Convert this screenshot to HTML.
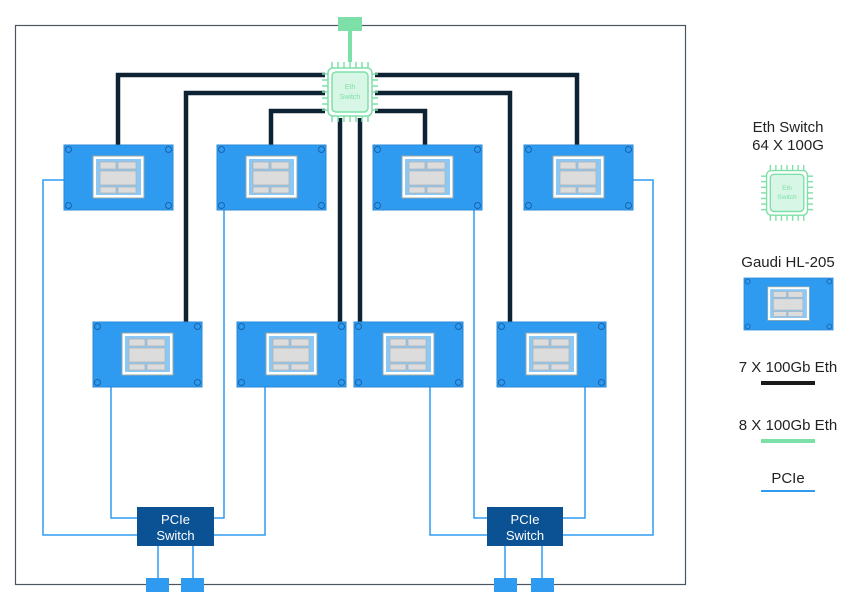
<!DOCTYPE html>
<html><head><meta charset="utf-8"><style>
html,body{margin:0;padding:0;background:#fff;}
svg{display:block;font-family:"Liberation Sans",sans-serif;}
</style></head><body>
<svg width="851" height="611" viewBox="0 0 851 611" xmlns="http://www.w3.org/2000/svg">
<defs>
<g id="card">
<rect x="0" y="0" width="109" height="65" fill="#2e9bf0" stroke="#2a8ad8" stroke-width="1"/>
<circle cx="4.5" cy="4.5" r="3" fill="none" stroke="#1a63a8" stroke-width="1"/>
<circle cx="104.5" cy="4.5" r="3" fill="none" stroke="#1a63a8" stroke-width="1"/>
<circle cx="4.5" cy="60.5" r="3" fill="none" stroke="#1a63a8" stroke-width="1"/>
<circle cx="104.5" cy="60.5" r="3" fill="none" stroke="#1a63a8" stroke-width="1"/>
<rect x="29" y="11" width="51" height="42" fill="#fff" stroke="#9aa" stroke-width="1"/>
<rect x="32" y="14" width="45" height="36" fill="#8cc8f5"/>
<rect x="36" y="17" width="16" height="7" fill="#dcdcdc" stroke="#b0b0b0" stroke-width="0.7"/>
<rect x="54" y="17" width="18" height="7" fill="#dcdcdc" stroke="#b0b0b0" stroke-width="0.7"/>
<rect x="36" y="26" width="36" height="14" fill="#dcdcdc" stroke="#b0b0b0" stroke-width="0.7"/>
<rect x="36" y="42" width="16" height="6" fill="#dcdcdc" stroke="#b0b0b0" stroke-width="0.7"/>
<rect x="54" y="42" width="18" height="6" fill="#dcdcdc" stroke="#b0b0b0" stroke-width="0.7"/>
</g>
<g id="chip" stroke="#7de0a8" stroke-width="1.5" fill="none">
<g>
<line x1="10" y1="0" x2="10" y2="6"/><line x1="16" y1="0" x2="16" y2="6"/><line x1="22" y1="0" x2="22" y2="6"/><line x1="28" y1="0" x2="28" y2="6"/><line x1="34" y1="0" x2="34" y2="6"/><line x1="40" y1="0" x2="40" y2="6"/><line x1="46" y1="0" x2="46" y2="6"/>
<line x1="10" y1="54" x2="10" y2="60"/><line x1="16" y1="54" x2="16" y2="60"/><line x1="22" y1="54" x2="22" y2="60"/><line x1="28" y1="54" x2="28" y2="60"/><line x1="34" y1="54" x2="34" y2="60"/><line x1="40" y1="54" x2="40" y2="60"/><line x1="46" y1="54" x2="46" y2="60"/>
<line x1="0" y1="12" x2="6" y2="12"/><line x1="0" y1="18" x2="6" y2="18"/><line x1="0" y1="24" x2="6" y2="24"/><line x1="0" y1="30" x2="6" y2="30"/><line x1="0" y1="36" x2="6" y2="36"/><line x1="0" y1="42" x2="6" y2="42"/><line x1="0" y1="48" x2="6" y2="48"/>
<line x1="50" y1="12" x2="56" y2="12"/><line x1="50" y1="18" x2="56" y2="18"/><line x1="50" y1="24" x2="56" y2="24"/><line x1="50" y1="30" x2="56" y2="30"/><line x1="50" y1="36" x2="56" y2="36"/><line x1="50" y1="42" x2="56" y2="42"/><line x1="50" y1="48" x2="56" y2="48"/>
</g>
<rect x="6" y="6" width="44" height="48" rx="5" fill="#fff"/>
<rect x="10" y="10" width="36" height="40" rx="4" fill="#d7f6e5"/>
</g>
</defs>

<!-- frame -->
<rect x="15.5" y="25.5" width="670" height="559" fill="none" stroke="#4a5560" stroke-width="1.2"/>

<!-- PCIe lines -->
<g stroke="#2e9bf0" stroke-width="1.5" fill="none">
<polyline points="64,180 43,180 43,535 137,535"/>
<polyline points="111,387 111,518 137,518"/>
<polyline points="224,210 224,518 214,518"/>
<polyline points="265,387 265,535 214,535"/>
<polyline points="430,387 430,535 487,535"/>
<polyline points="474,210 474,518 487,518"/>
<polyline points="585,387 585,518 563,518"/>
<polyline points="633,180 653,180 653,535 563,535"/>
<line x1="158" y1="546" x2="158" y2="580"/><line x1="193" y1="546" x2="193" y2="580"/>
<line x1="505" y1="546" x2="505" y2="580"/><line x1="542" y1="546" x2="542" y2="580"/>
</g>

<!-- Eth thick lines -->
<g stroke="#0d2233" stroke-width="4.5" fill="none">
<polyline points="118,145 118,75 325,75"/>
<polyline points="186,322 186,93 325,93"/>
<polyline points="271,145 271,111 325,111"/>
<line x1="340" y1="322" x2="340" y2="118"/>
<line x1="360" y1="322" x2="360" y2="118"/>
<polyline points="425,145 425,111 375,111"/>
<polyline points="510,322 510,93 375,93"/>
<polyline points="577,145 577,75 375,75"/>
</g>

<!-- top green connector -->
<line x1="350" y1="30" x2="350" y2="62" stroke="#7de0a8" stroke-width="4"/>
<rect x="338" y="17" width="24" height="14" fill="#7de0a8"/>
<g transform="translate(322,62)"><use href="#chip"/></g>
<text x="350" y="89" font-size="7" fill="#7de0a8" text-anchor="middle">Eth</text>
<text x="350" y="99" font-size="7" fill="#7de0a8" text-anchor="middle">Switch</text>

<!-- cards -->
<use href="#card" x="64" y="145"/>
<use href="#card" x="217" y="145"/>
<use href="#card" x="373" y="145"/>
<use href="#card" x="524" y="145"/>
<use href="#card" x="93" y="322"/>
<use href="#card" x="237" y="322"/>
<use href="#card" x="354" y="322"/>
<use href="#card" x="497" y="322"/>

<!-- PCIe switches -->
<rect x="137" y="507" width="77" height="39" fill="#0a5294"/>
<text x="175.5" y="524" font-size="13" fill="#fff" text-anchor="middle">PCIe</text>
<text x="175.5" y="540" font-size="13" fill="#fff" text-anchor="middle">Switch</text>
<rect x="487" y="507" width="76" height="39" fill="#0a5294"/>
<text x="525" y="524" font-size="13" fill="#fff" text-anchor="middle">PCIe</text>
<text x="525" y="540" font-size="13" fill="#fff" text-anchor="middle">Switch</text>

<!-- bottom connectors -->
<g fill="#2e9bf0">
<rect x="146" y="578" width="23" height="14"/><rect x="181" y="578" width="23" height="14"/>
<rect x="494" y="578" width="23" height="14"/><rect x="531" y="578" width="23" height="14"/>
</g>

<!-- legend -->
<g fill="#222" font-size="15" text-anchor="middle">
<text x="788" y="132">Eth Switch</text>
<text x="788" y="150">64 X 100G</text>
<text x="788" y="267">Gaudi HL-205</text>
<text x="788" y="372">7 X 100Gb Eth</text>
<text x="788" y="430">8 X 100Gb Eth</text>
<text x="788" y="483">PCIe</text>
</g>
<g transform="translate(761,165) scale(0.93)"><use href="#chip"/></g>
<text x="787" y="190" font-size="6.5" fill="#7de0a8" text-anchor="middle">Eth</text>
<text x="787" y="199" font-size="6.5" fill="#7de0a8" text-anchor="middle">Switch</text>
<g transform="translate(744,278) scale(0.817,0.8)"><use href="#card"/></g>
<rect x="761" y="381" width="54" height="4" fill="#1a1a1a"/>
<rect x="761" y="439" width="54" height="4" fill="#7de0a8"/>
<rect x="761" y="490" width="54" height="2" fill="#2e9bf0"/>
</svg>
</body></html>
